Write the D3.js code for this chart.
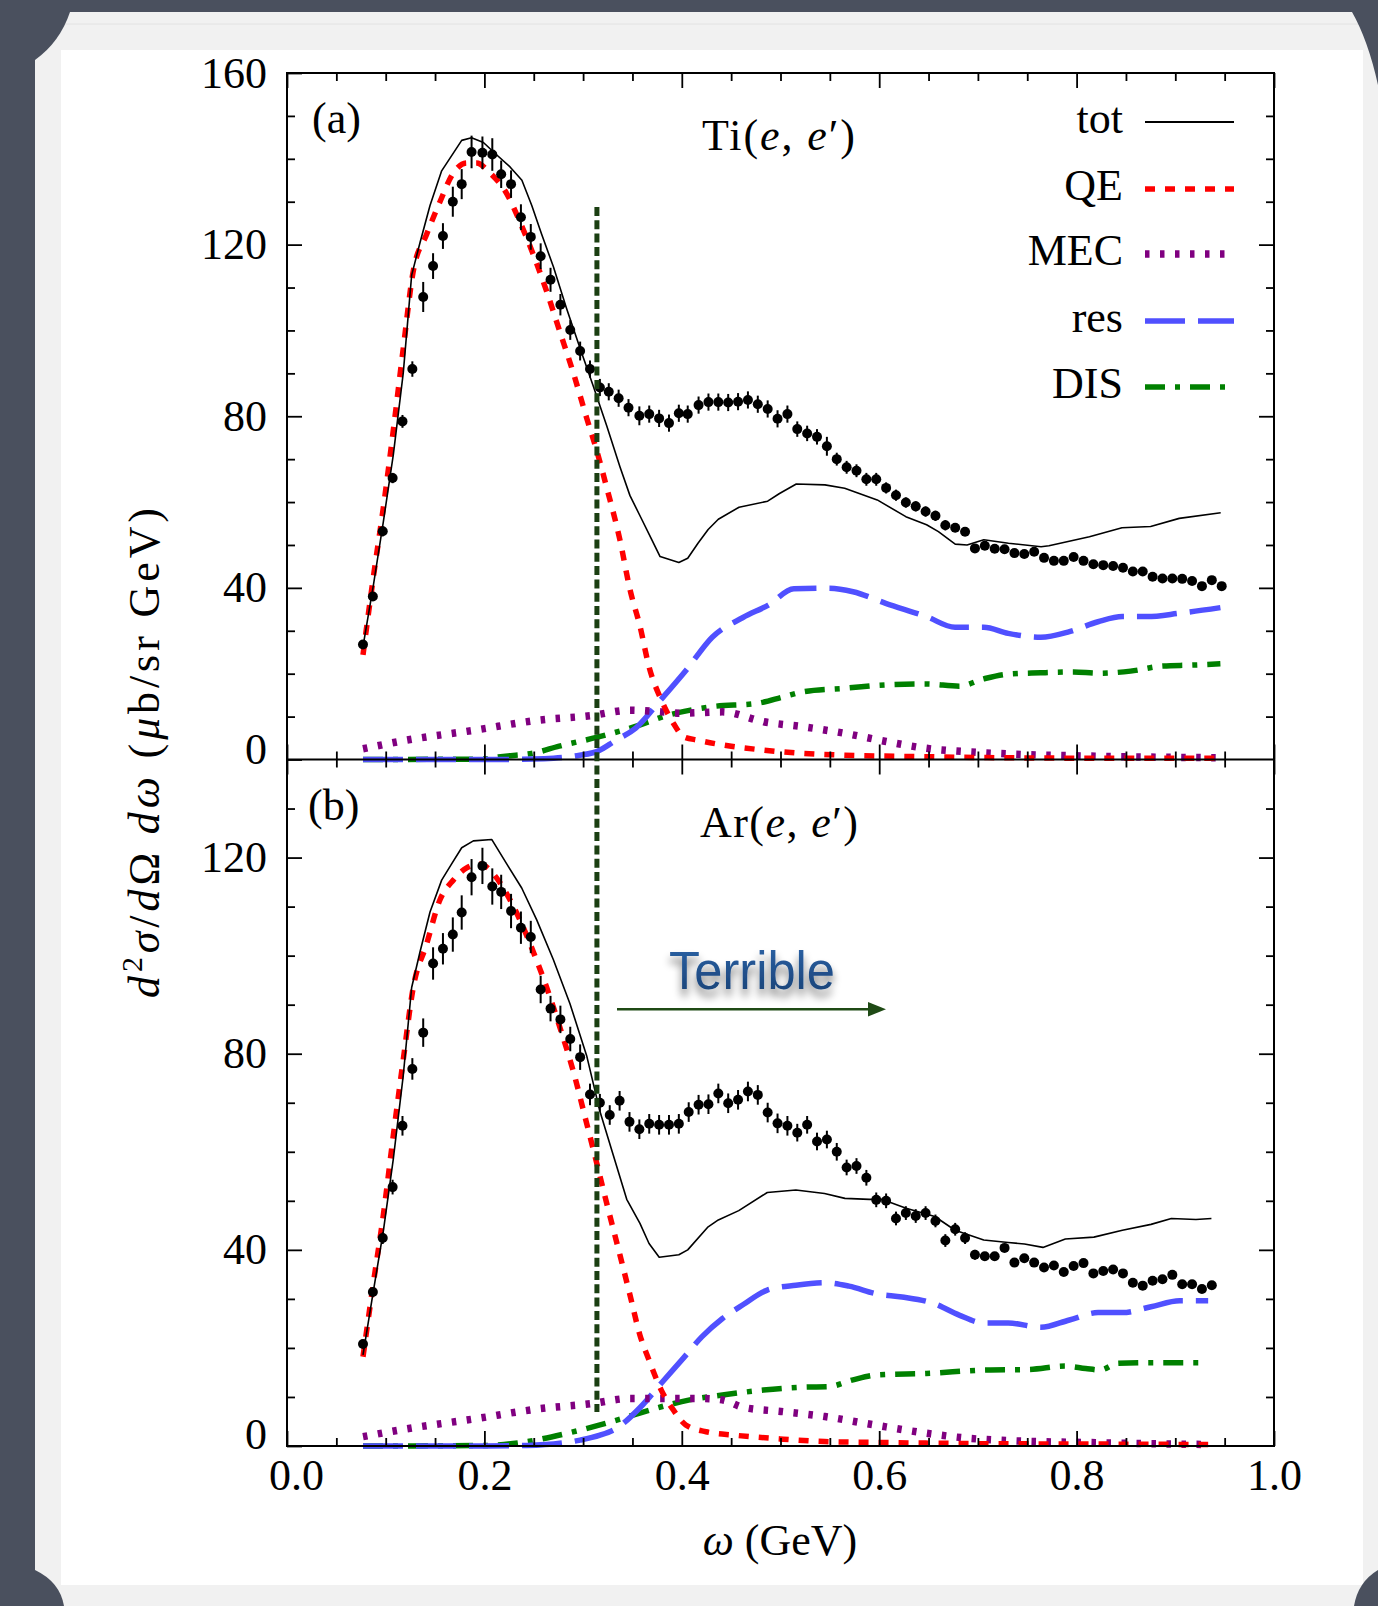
<!DOCTYPE html>
<html><head><meta charset="utf-8">
<script src="https://cdn.jsdelivr.net/npm/d3@7"></script>
<style>body{margin:0;background:#4a505e;} svg{display:block}</style>
</head><body><svg id="c" width="1378" height="1606"></svg>
<script>
// ---------------- data ----------------
const omegaTi = [0.077,0.087,0.097,0.107,0.117,0.127,0.138,0.148,0.158,0.168,
0.177,0.187,0.198,0.208,0.217,0.227,0.237,0.247,0.257,0.267,
0.277,0.287,0.297,0.307,0.317,0.326,0.336,0.346,0.357,0.367,
0.377,0.387,0.397,0.406,0.417,0.427,0.437,0.447,0.457,0.467,
0.477,0.487,0.497,0.507,0.517,0.527,0.537,0.547,0.557,0.567,
0.577,0.587,0.597,0.607,0.617,0.627,0.637,0.647,0.657,0.667,
0.677,0.687,0.697,0.707,0.717,0.727,0.737,0.747,0.757,0.767,
0.777,0.787,0.797,0.807,0.817,0.827,0.837,0.847,0.857,0.867,
0.877,0.887,0.897,0.907,0.917,0.927,0.937,0.947];
const tiData = [26.8,38.0,53.2,65.6,78.8,91.0,107.8,115.0,122.0,130.0,
134.1,141.6,141.4,141.0,136.4,134.1,126.4,121.8,117.3,111.8,
106.0,100.1,95.2,91.0,86.7,85.7,84.2,82.0,80.1,80.5,
79.5,78.4,80.7,80.5,82.6,83.3,83.3,83.2,83.4,83.8,
82.8,81.7,79.4,80.5,77.0,76.0,75.2,73.0,70.0,68.1,
67.3,65.3,65.3,63.3,61.6,59.9,59.0,57.8,56.8,54.6,
54.0,53.1,49.2,49.8,49.1,49.0,48.1,47.9,48.4,47.0,
46.3,46.3,47.2,46.3,45.5,45.3,45.1,44.7,43.8,43.8,
42.6,42.2,42.2,42.1,41.6,40.4,41.8,40.4];
const tiErr = [1.0,1.0,1.2,1.2,1.5,1.8,3.5,3.0,3.0,3.5,
3.5,3.8,3.8,3.8,3.2,3.2,3.0,3.0,3.0,2.8,
2.5,2.3,2.2,2.0,2.0,2.0,2.0,2.0,2.2,2.0,
2.0,2.0,2.0,2.0,2.0,2.0,2.0,2.0,2.0,2.0,
2.0,2.0,2.0,2.0,1.8,1.8,1.8,2.2,1.5,1.5,
1.5,1.5,1.5,1.3,1.3,1.2,1.2,1.2,1.2,1.2,
1.0,1.0,1.0,0.8,0.8,0.8,0.8,0.8,0.8,0.8,
0.8,0.8,0.8,0.8,0.8,0.8,0.8,0.8,0.8,0.8,
0.8,0.8,0.8,0.8,0.8,0.8,0.8,0.8];

const omegaAr = [0.077,0.087,0.097,0.107,0.117,0.127,0.138,0.148,0.158,0.168,
0.177,0.187,0.198,0.208,0.217,0.227,0.237,0.247,0.257,0.267,
0.277,0.287,0.297,0.307,0.317,0.327,0.337,0.347,0.357,0.367,
0.377,0.387,0.397,0.407,0.417,0.427,0.437,0.447,0.457,0.467,
0.477,0.487,0.497,0.507,0.517,0.527,0.537,0.547,0.557,0.567,
0.577,0.587,0.597,0.607,0.617,0.627,0.637,0.647,0.657,0.667,
0.677,0.687,0.697,0.707,0.717,0.727,0.737,0.747,0.757,0.767,
0.777,0.787,0.797,0.807,0.817,0.827,0.837,0.847,0.857,0.867,
0.877,0.887,0.897,0.907,0.917,0.927,0.937];
const arData = [20.8,31.4,42.4,52.8,65.3,76.9,84.3,98.4,101.4,104.3,
108.8,116.0,118.3,114.1,113.0,109.1,105.7,103.8,93.1,89.2,
87.0,83.0,79.3,71.7,70.0,67.5,70.4,66.1,64.6,65.7,
65.5,65.5,65.7,68.1,69.6,69.7,71.9,69.9,70.6,72.3,
71.6,68.0,65.8,65.3,63.9,65.5,62.1,62.5,60.0,56.8,
57.1,54.7,50.2,50.0,46.4,47.5,46.9,47.5,45.9,41.9,
44.2,42.4,39.0,38.7,38.7,40.4,37.4,38.3,37.4,36.4,
36.8,35.5,36.7,37.3,35.2,35.7,36.0,35.2,33.3,32.7,
33.7,34.0,34.9,33.0,33.0,32.0,32.8];
const arErr = [0.8,1.0,1.2,1.5,2.0,2.2,2.9,3.3,3.2,3.5,
3.5,3.7,3.7,3.7,3.5,3.5,3.3,3.3,2.8,2.6,
2.8,2.5,2.6,2.2,1.8,2.0,2.0,2.0,2.0,2.0,
2.0,2.0,2.0,2.0,2.0,2.0,2.0,2.0,2.0,2.0,
2.0,2.0,2.0,2.0,1.8,1.8,1.8,1.8,1.8,1.6,
1.6,1.6,1.5,1.5,1.4,1.4,1.4,1.4,1.3,1.3,
1.3,1.2,1.0,0.8,0.8,0.8,0.8,0.8,0.8,0.8,
0.8,0.8,0.8,0.8,0.8,0.8,0.8,0.8,0.8,0.8,
0.8,0.8,0.8,0.8,0.8,0.8,0.8];

// Ti model curves
const tiTotW = [0.077,0.0875,0.0976,0.1077,0.1178,0.1263,0.1348,0.1449,0.1567,0.177,0.187,0.199,0.212,0.226,0.238,0.248,0.258,0.270,0.283,0.297,0.310,0.324,0.3374,0.3475,0.3585,0.3688,0.378,0.397,0.406,0.4164,0.4267,0.437,0.458,0.487,0.499,0.516,0.545,0.565,0.598,0.627,0.648,0.660,0.677,0.689,0.706,0.731,0.764,0.772,0.813,0.846,0.875,0.904,0.946];
const tiTot = [26.3,40.6,55.4,71.0,90.1,112.9,120.5,129.1,137.2,144.3,144.9,143.8,141.0,138.1,135.0,129.1,122.4,114.8,105.3,95.8,87.2,77.7,68.2,61.5,56.4,51.6,47.3,45.9,46.9,50.4,53.6,56.0,58.8,60.2,62.0,64.2,64.0,63.2,60.5,56.6,54.7,53.1,50.2,50.0,51.2,50.4,49.6,49.8,51.9,54.0,54.3,56.2,57.5];
const tiQEW = [0.077,0.0875,0.0976,0.1077,0.1178,0.1279,0.1415,0.155,0.1685,0.182,0.192,0.2057,0.2226,0.236,0.2495,0.2631,0.2766,0.2901,0.3036,0.3138,0.3239,0.3374,0.3475,0.3576,0.3668,0.3792,0.3916,0.4019,0.4164,0.4412,0.4826,0.5238,0.5653,0.6479,0.73,0.813,0.946];
const tiQE = [24.4,42.5,58.7,76.7,95.8,113.8,122.4,130.0,136.7,139.0,139.0,136.7,131.9,125.3,117.7,109.1,99.6,90.1,79.6,72.0,63.4,51.1,39.6,31.1,21.6,13.9,8.4,5.3,4.5,3.4,2.2,1.4,1.0,0.65,0.4,0.3,0.3];
const tiMECW = [0.077,0.121,0.189,0.256,0.307,0.348,0.379,0.400,0.441,0.483,0.524,0.565,0.607,0.648,0.689,0.731,0.813,0.946];
const tiMEC = [2.5,4.5,6.8,9.2,10.2,11.5,11.1,10.8,11.1,8.8,7.6,6.1,4.2,2.6,1.8,1.3,0.8,0.4];
const tiResW = [0.077,0.20,0.25,0.27,0.2965,0.3145,0.3326,0.3533,0.379,0.405,0.4308,0.462,0.4877,0.5136,0.5487,0.5735,0.6066,0.6479,0.6769,0.7059,0.7307,0.7637,0.7927,0.8217,0.8464,0.8713,0.9044,0.9457];
const tiRes = [0,0,0.1,0.3,1.0,1.9,4.4,7.3,14.0,21.0,28.5,33.1,36.0,39.8,39.9,39.1,36.4,33.3,30.8,30.8,29.4,28.5,29.8,32.1,33.3,33.3,34.1,35.4];
const tiDISW = [0.077,0.20,0.2138,0.25,0.2758,0.3145,0.353,0.3843,0.43,0.4766,0.503,0.5238,0.5653,0.6066,0.6479,0.681,0.7059,0.7307,0.7637,0.797,0.8217,0.8547,0.8878,0.9167,0.9457];
const tiDIS = [0,0.1,0.6,1.5,3.1,5.2,7.7,10.2,12.3,13.1,14.6,15.8,16.6,17.4,17.6,17.1,18.8,19.9,20.2,20.4,20.1,20.6,21.8,22.0,22.3];

// Ar model curves
const arTotW = [0.077,0.0875,0.0976,0.1077,0.1178,0.1263,0.1348,0.1449,0.1567,0.1668,0.177,0.1888,0.2074,0.2226,0.2378,0.253,0.2698,0.2867,0.3036,0.3171,0.3306,0.3442,0.3576,0.3668,0.3771,0.397,0.406,0.4267,0.437,0.4577,0.4866,0.5156,0.5446,0.5653,0.59,0.6025,0.6273,0.6563,0.6769,0.7059,0.7307,0.7472,0.7659,0.7886,0.8175,0.8464,0.8754,0.896,0.9209,0.9366];
const arTot = [18.6,31.6,43.8,58.5,75.6,93.5,100.8,108.9,115.4,118.7,122.0,123.4,123.7,118.7,113.8,107.3,99.2,90.2,79.6,68.2,59.3,50.3,45.4,41.3,38.5,39.0,40.0,44.7,46.1,48.0,51.7,52.2,51.5,50.5,50.3,50.3,48.5,46.8,44.0,42.0,41.5,41.2,40.5,42.2,42.6,44.0,45.2,46.4,46.2,46.4];
const arQEW = [0.077,0.0875,0.0976,0.1077,0.1178,0.1279,0.1415,0.155,0.1685,0.182,0.1955,0.209,0.2226,0.236,0.2495,0.2631,0.2766,0.2901,0.3036,0.3138,0.3239,0.3374,0.3475,0.3576,0.3668,0.3792,0.3916,0.404,0.4246,0.4536,0.503,0.5446,0.6066,0.6893,0.813,0.9333];
const arQE = [18.2,33.2,47.1,63.3,78.8,93.5,102.4,111.4,115.4,117.9,118.7,116.7,112.6,107.3,100.8,93.5,85.3,76.4,65.8,57.7,49.5,38.9,30.8,22.6,17.5,11.4,7.3,4.3,2.9,2.2,1.4,0.9,0.7,0.5,0.4,0.3];
const arMECW = [0.077,0.121,0.189,0.256,0.307,0.348,0.379,0.42,0.441,0.462,0.503,0.545,0.586,0.607,0.648,0.689,0.731,0.813,0.933];
const arMEC = [1.9,3.5,5.5,7.6,8.6,9.7,9.7,9.7,9.4,7.9,7.0,6.0,4.6,3.9,2.6,1.6,1.1,0.7,0.3];
const arResW = [0.077,0.20,0.243,0.297,0.3171,0.3337,0.3585,0.3792,0.3998,0.4205,0.4412,0.4619,0.4866,0.5156,0.5446,0.5694,0.5984,0.6231,0.6563,0.681,0.7059,0.7307,0.7637,0.7927,0.8217,0.8464,0.8754,0.9044,0.9333];
const arRes = [0,0,0.1,1.2,2.2,3.6,8.0,12.8,17.5,22.3,26.0,28.8,31.8,32.8,33.3,32.6,31.0,30.4,29.0,26.7,25.1,25.1,24.2,25.7,27.2,27.2,28.4,29.6,29.6];
const arDISW = [0.077,0.20,0.243,0.288,0.3171,0.346,0.3792,0.4081,0.4412,0.4826,0.5238,0.5487,0.5735,0.5984,0.6479,0.7092,0.7514,0.7886,0.8092,0.8237,0.8424,0.8754,0.9333];
const arDIS = [0,0.1,0.9,2.8,4.3,6.0,8.0,9.4,10.4,11.4,12.0,12.1,13.5,14.5,14.8,15.5,15.6,16.3,15.8,15.5,16.9,17.0,17.0];

const xTicks = [0,0.2,0.4,0.6,0.8,1.0];
const yTicksA = [0,40,80,120,160];
const yTicksB = [0,40,80,120];
const legendLabels = ["tot","QE","MEC","res","DIS"];
const omegaCut = 0.314;

// ---------------- layout ----------------
const svg = d3.select('#c');
const L=287, R=1274, T=73, M=759.5, B=1446;
const x = d3.scaleLinear().domain([0,1]).range([L,R]);
const yA = d3.scaleLinear().domain([0,160]).range([M,T]);
const yB = d3.scaleLinear().domain([0,140]).range([B,M]);
const SERIF = "'Liberation Serif','Times New Roman',serif";

// paper background
svg.append('rect').attr('x',35).attr('y',12).attr('width',1343).attr('height',1594).attr('fill','#f1f1f1');
svg.append('line').attr('x1',60).attr('x2',1378).attr('y1',24).attr('y2',24).attr('stroke','#e2e2e2');
svg.append('rect').attr('x',61).attr('y',50).attr('width',1302).attr('height',1535).attr('fill','#ffffff');
const dark = '#4a505e';
svg.append('path').attr('d','M35,12 L70,12 Q60,42 35,60 Z').attr('fill',dark);
svg.append('path').attr('d','M1352,12 Q1368,40 1378,85 L1378,12 Z').attr('fill',dark);
svg.append('path').attr('d','M35,1570 Q60,1582 64,1606 L35,1606 Z').attr('fill',dark);
svg.append('path').attr('d','M1378,1570 Q1358,1582 1354,1606 L1378,1606 Z').attr('fill',dark);

// ---------------- curves ----------------
const styles = {
  tot:{stroke:'#000', w:1.6, dash:null, curve:d3.curveLinear},
  QE:{stroke:'#ff0000', w:5.5, dash:'10,10', curve:d3.curveMonotoneX},
  MEC:{stroke:'#800080', w:7.5, dash:'4.5,10.5', curve:d3.curveMonotoneX},
  res:{stroke:'#5050ff', w:5.5, dash:'40,13', curve:d3.curveMonotoneX},
  DIS:{stroke:'#008000', w:5.5, dash:'20,10,5,10', curve:d3.curveMonotoneX}
};
function drawCurve(ws, vs, yScale, key){
  const st = styles[key];
  const line = d3.line().x(d=>x(d[0])).y(d=>yScale(d[1])).curve(st.curve);
  svg.append('path').datum(ws.map((w,i)=>[w,vs[i]]))
    .attr('d', line).attr('fill','none').attr('stroke',st.stroke)
    .attr('stroke-width',st.w).attr('stroke-dasharray',st.dash)
    .attr('stroke-linejoin','round');
}
drawCurve(tiDISW, tiDIS, yA, 'DIS');
drawCurve(tiResW, tiRes, yA, 'res');
drawCurve(tiMECW, tiMEC, yA, 'MEC');
drawCurve(tiQEW, tiQE, yA, 'QE');
drawCurve(tiTotW, tiTot, yA, 'tot');
drawCurve(arDISW, arDIS, yB, 'DIS');
drawCurve(arResW, arRes, yB, 'res');
drawCurve(arMECW, arMEC, yB, 'MEC');
drawCurve(arQEW, arQE, yB, 'QE');
drawCurve(arTotW, arTot, yB, 'tot');

// ---------------- data points ----------------
function drawData(ws, vs, es, yScale){
  const g = svg.append('g');
  const pts = ws.map((w,i)=>({w, v:vs[i], e:es[i]}));
  g.selectAll('line').data(pts).join('line')
    .attr('x1',d=>x(d.w)).attr('x2',d=>x(d.w))
    .attr('y1',d=>yScale(d.v-d.e)).attr('y2',d=>yScale(d.v+d.e))
    .attr('stroke','#000').attr('stroke-width',2);
  g.selectAll('circle').data(pts).join('circle')
    .attr('cx',d=>x(d.w)).attr('cy',d=>yScale(d.v)).attr('r',5).attr('fill','#000');
}
drawData(omegaTi, tiData, tiErr, yA);
drawData(omegaAr, arData, arErr, yB);

// ---------------- axes ----------------
function minorRange(a,b,s){const r=[];for(let v=a;v<=b+1e-9;v+=s)r.push(+v.toFixed(4));return r;}
const xMinor = minorRange(0,1,0.05).filter(v=>!xTicks.some(t=>Math.abs(t-v)<1e-6));
function axisG(tr){ return svg.append('g').attr('transform',tr); }
function clean(g){
  g.attr('font-family',SERIF).attr('font-size',44);
  g.select('.domain').remove();
  g.selectAll('.tick line').attr('stroke-width',1.8);
  g.selectAll('text').attr('fill','#000');
}

axisG(`translate(${L},0)`).call(d3.axisLeft(yA).tickValues(yTicksA).tickSizeInner(-15).tickSizeOuter(0).tickPadding(20).tickFormat(d3.format('d'))).call(clean)
  .selectAll('.tick text').attr('dy',d=>d===0?'0.1em':'0.32em');
axisG(`translate(${L},0)`).call(d3.axisLeft(yA).tickValues(minorRange(10,150,10).filter(v=>v%40)).tickSizeInner(-8).tickSizeOuter(0).tickFormat('')).call(clean);
axisG(`translate(${R},0)`).call(d3.axisRight(yA).tickValues(yTicksA.slice(1,4)).tickSizeInner(-15).tickSizeOuter(0).tickFormat('')).call(clean);
axisG(`translate(${R},0)`).call(d3.axisRight(yA).tickValues(minorRange(10,150,10).filter(v=>v%40)).tickSizeInner(-8).tickSizeOuter(0).tickFormat('')).call(clean);
axisG(`translate(${L},0)`).call(d3.axisLeft(yB).tickValues(yTicksB).tickSizeInner(-15).tickSizeOuter(0).tickPadding(20).tickFormat(d3.format('d'))).call(clean)
  .selectAll('.tick text').attr('dy',d=>d===0?'0.06em':'0.32em');
axisG(`translate(${L},0)`).call(d3.axisLeft(yB).tickValues(minorRange(10,130,10).filter(v=>v%40)).tickSizeInner(-8).tickSizeOuter(0).tickFormat('')).call(clean);
axisG(`translate(${R},0)`).call(d3.axisRight(yB).tickValues(yTicksB.slice(1)).tickSizeInner(-15).tickSizeOuter(0).tickFormat('')).call(clean);
axisG(`translate(${R},0)`).call(d3.axisRight(yB).tickValues(minorRange(10,130,10).filter(v=>v%40)).tickSizeInner(-8).tickSizeOuter(0).tickFormat('')).call(clean);
[[T,'top'],[M,'bottom'],[M,'top'],[B,'bottom']].forEach(([yy,side],k)=>{
  const mk = side==='top'?d3.axisTop:d3.axisBottom;
  const labels = (k===3);
  const gM = axisG(`translate(0,${yy})`).call(mk(x).tickValues(xTicks).tickSizeInner(-15).tickSizeOuter(0).tickPadding(13)
      .tickFormat(labels?d3.format('.1f'):'')).call(clean);
  if(labels) gM.selectAll('.tick text').attr('dx',d=>d===0?9:0);
  axisG(`translate(0,${yy})`).call(mk(x).tickValues(xMinor).tickSizeInner(-8).tickSizeOuter(0).tickFormat('')).call(clean);
});
svg.append('rect').attr('x',L).attr('y',T).attr('width',R-L).attr('height',B-T).attr('fill','none').attr('stroke','#000').attr('stroke-width',2);
svg.append('line').attr('x1',L).attr('x2',R).attr('y1',M).attr('y2',M).attr('stroke','#000').attr('stroke-width',2.2);

// ---------------- texts ----------------
function txt(xx,yy,anchor){ return svg.append('text').attr('x',xx).attr('y',yy).attr('text-anchor',anchor||'start').attr('font-family',SERIF).attr('font-size',44).attr('fill','#000'); }
txt(312,133).text('(a)');
txt(308,820).text('(b)');
function reaction(t, xx, yy, len){
  const e = txt(xx,yy).attr('textLength',len).attr('lengthAdjust','spacing');
  e.append('tspan').text(t+'(');
  e.append('tspan').attr('font-style','italic').text('e');
  e.append('tspan').text(', ');
  e.append('tspan').attr('font-style','italic').text('e');
  e.append('tspan').text('′)');
}
reaction('Ti', 702, 150, 153);
reaction('Ar', 700, 837, 158);

const legBase = [133,200,265,332,398];
legendLabels.forEach((k,i)=>{
  txt(1123, legBase[i], 'end').text(k);
  const st = styles[k];
  svg.append('line').attr('x1',1145).attr('x2',1234).attr('y1',legBase[i]-11).attr('y2',legBase[i]-11)
    .attr('stroke',st.stroke).attr('stroke-width',k==='tot'?1.8:st.w).attr('stroke-dasharray',st.dash);
});

const xl = txt(780,1555,'middle');
xl.append('tspan').attr('font-style','italic').text('ω');
xl.append('tspan').text(' (GeV)');

const yl = svg.append('text').attr('transform','translate(159,753) rotate(-90)').attr('text-anchor','middle')
  .attr('font-family',SERIF).attr('font-size',44).attr('fill','#000')
  .attr('textLength',490).attr('lengthAdjust','spacing');
yl.append('tspan').attr('font-style','italic').text('d');
yl.append('tspan').attr('font-size',30).attr('dy',-17).text('2');
yl.append('tspan').attr('font-style','italic').attr('dy',17).text('σ');
yl.append('tspan').text('/');
yl.append('tspan').attr('font-style','italic').text('d');
yl.append('tspan').text('Ω ');
yl.append('tspan').attr('font-style','italic').text('dω');
yl.append('tspan').text('  (');
yl.append('tspan').attr('font-style','italic').text('μ');
yl.append('tspan').text('b/sr GeV)');

// ---------------- overlay annotations ----------------
svg.append('line').attr('x1',x(omegaCut)).attr('x2',x(omegaCut)).attr('y1',207).attr('y2',1412)
  .attr('stroke','#1b3f12').attr('stroke-width',5).attr('stroke-dasharray','9,4.3');

const defs = svg.append('defs');
const grad = defs.append('linearGradient').attr('id','tg').attr('x1',0).attr('y1',0).attr('x2',0).attr('y2',1);
grad.append('stop').attr('offset','0%').attr('stop-color','#2d64a8');
grad.append('stop').attr('offset','100%').attr('stop-color','#173f72');
const f = defs.append('filter').attr('id','sh').attr('x','-20%').attr('y','-30%').attr('width','140%').attr('height','180%');
f.append('feGaussianBlur').attr('in','SourceAlpha').attr('stdDeviation',4).attr('result','b');
f.append('feOffset').attr('in','b').attr('dy',7).attr('result','o');
f.append('feComponentTransfer').attr('in','o').attr('result','o2').append('feFuncA').attr('type','linear').attr('slope',0.55);
const fm = f.append('feMerge'); fm.append('feMergeNode').attr('in','o2'); fm.append('feMergeNode').attr('in','SourceGraphic');
svg.append('text').attr('x',669).attr('y',989).attr('font-family',"'Liberation Sans',Arial,sans-serif")
  .attr('font-size',53).attr('textLength',166).attr('lengthAdjust','spacingAndGlyphs')
  .attr('fill','url(#tg)').attr('filter','url(#sh)').text('Terrible');
svg.append('line').attr('x1',617).attr('x2',872).attr('y1',1009.3).attr('y2',1009.3).attr('stroke','#1f4a15').attr('stroke-width',2.5);
svg.append('polygon').attr('points','868,1002 886,1009.3 868,1016.6').attr('fill','#1f4a15');
</script></body></html>
